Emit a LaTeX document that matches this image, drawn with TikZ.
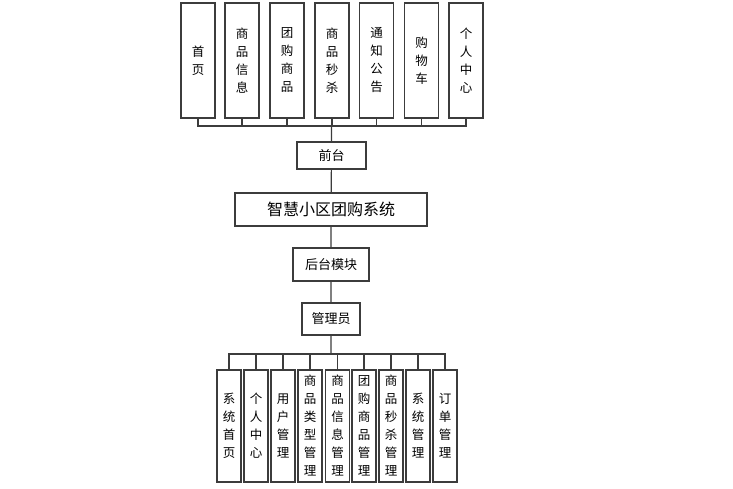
\documentclass[tikz,border=0pt]{standalone}
\usepackage{fontspec}
\setmainfont{Noto Sans CJK SC}
\usetikzlibrary{positioning,calc}
\definecolor{frame}{HTML}{3C3C3C}
\tikzset{sysbox/.style={draw=frame,line width=1.3pt,inner sep=0pt,align=center,font=\fontsize{12.5}{18}\selectfont},topbox/.style={sysbox,minimum width=34pt,minimum height=115pt},subbox/.style={sysbox,minimum width=24pt,minimum height=112pt},sysline/.style={draw=frame,line width=1.2pt}}
\begin{document}
\begin{tikzpicture}[x=1pt,y=-1pt]
\useasboundingbox (0,0) rectangle (733,489);
% front end pages
\node[topbox] (home) at (198,60.5) {首\\页};
\node[topbox] (goods) at (242,60.5) {商\\品\\信\\息};
\node[topbox] (group) at (287,60.5) {团\\购\\商\\品};
\node[topbox] (flash) at (332,60.5) {商\\品\\秒\\杀};
\node[topbox] (notice) at (376.5,60.5) {通\\知\\公\\告};
\node[topbox] (cart) at (421.5,60.5) {购\\物\\车};
\node[topbox] (center) at (466,60.5) {个\\人\\中\\心};
\coordinate (topbus) at (331.5,126);
\node[sysbox,minimum width=69pt,minimum height=27pt,font=\fontsize{13}{15}\selectfont] (front) at (331.5,155.5) {前台};
\node[sysbox,minimum width=192pt,minimum height=33pt,font=\fontsize{16}{18}\selectfont] (system) at (331,209.5) {智慧小区团购系统};
\node[sysbox,minimum width=76pt,minimum height=33pt,font=\fontsize{13}{15}\selectfont] (back) at (331,264.5) {后台模块};
\node[sysbox,minimum width=58pt,minimum height=32pt,font=\fontsize{13}{15}\selectfont] (admin) at (331,319) {管理员};
\coordinate (subbus) at (331,354);
% admin functions
\node[subbox] (shome) at (229,426) {系\\统\\首\\页};
\node[subbox] (scenter) at (256,426) {个\\人\\中\\心};
\node[subbox] (user) at (283,426) {用\\户\\管\\理};
\node[subbox] (kind) at (310,426) {商\\品\\类\\型\\管\\理};
\node[subbox] (sgoods) at (337.5,426) {商\\品\\信\\息\\管\\理};
\node[subbox] (sgroup) at (364,426) {团\\购\\商\\品\\管\\理};
\node[subbox] (sflash) at (391,426) {商\\品\\秒\\杀\\管\\理};
\node[subbox] (setting) at (418,426) {系\\统\\管\\理};
\node[subbox] (order) at (445,426) {订\\单\\管\\理};
\draw[sysline] (home.south) |- (topbus) (goods.south) |- (topbus) (group.south) |- (topbus) (flash.south) |- (topbus);
\draw[sysline] (center.south) |- (topbus) (cart.south) |- (topbus) (notice.south) |- (topbus);
\draw[sysline] (topbus) -- (front) (front) -- (system) (system) -- (back) (back) -- (admin) (admin) -- (subbus);
\draw[sysline] (subbus) -| (shome.north) (subbus) -| (scenter.north) (subbus) -| (user.north) (subbus) -| (kind.north) (subbus) -| (sgoods.north);
\draw[sysline] (subbus) -| (sgroup.north) (subbus) -| (sflash.north) (subbus) -| (setting.north) (subbus) -| (order.north);
\end{tikzpicture}
\end{document}
